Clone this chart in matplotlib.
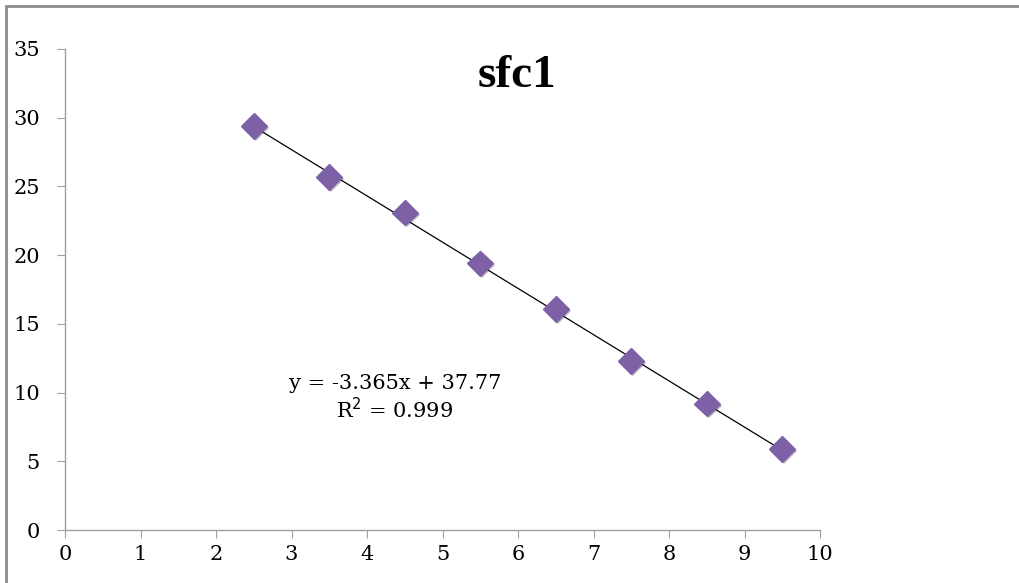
import matplotlib.pyplot as plt
import matplotlib.patheffects as pe
from matplotlib.patches import Rectangle

# data
x = [2.5, 3.5, 4.5, 5.5, 6.5, 7.5, 8.5, 9.5]
y = [29.4, 25.7, 23.1, 19.4, 16.1, 12.3, 9.2, 5.9]
slope, intercept = -3.365, 37.77
x_ticks = [0, 1, 2, 3, 4, 5, 6, 7, 8, 9, 10]
y_ticks = [0, 5, 10, 15, 20, 25, 30, 35]

fig = plt.figure(figsize=(10.19, 5.83), dpi=100)
ax = fig.add_axes([65 / 1019, 53 / 583, 755 / 1019, 481 / 583])

# chart frame (only left/top edges visible, rest cropped)
fig.patches.append(Rectangle((6 / 1019, -0.1), 1.2, 1 - 6 / 583 + 0.1,
                             transform=fig.transFigure, fill=False,
                             edgecolor='#8c8c8c', linewidth=2))

# trendline
fit_x = [x[0], x[-1]]
fit_y = [slope * v + intercept for v in fit_x]
ax.plot(fit_x, fit_y, color='black', linewidth=0.9, zorder=2)

ax.plot(x, y, linestyle='none', marker='D', markersize=13,
        markerfacecolor='#7d60a6', markeredgecolor='#7d60a6', zorder=3,
        path_effects=[pe.SimplePatchShadow(offset=(1.5, -1.5), alpha=0.3),
                      pe.Normal()])

ax.text(4.37, 9.6, 'y = -3.365x + 37.77\nR$^2$ = 0.999', ha='center', va='center',
        fontsize=15, family='DejaVu Serif', linespacing=1.15)

fig.text(517 / 1019, 1 - 76 / 583, 'sfc1', ha='center', va='center',
         fontsize=34, fontweight='bold', family='Liberation Serif')

ax.set_xlim(0, 10)
ax.set_ylim(0, 35)
ax.set_xticks(x_ticks)
ax.set_yticks(y_ticks)
for s in ['top', 'right']:
    ax.spines[s].set_visible(False)
for s in ['left', 'bottom']:
    ax.spines[s].set_color('#a0a0a0')
    ax.spines[s].set_linewidth(1)
ax.tick_params(axis='both', direction='out', length=6, color='#a0a0a0',
               labelsize=15)
ax.tick_params(axis='y', pad=12)
ax.tick_params(axis='x', pad=5)
for lbl in ax.get_xticklabels() + ax.get_yticklabels():
    lbl.set_family('DejaVu Serif')

plt.savefig('out.png', dpi=100)
